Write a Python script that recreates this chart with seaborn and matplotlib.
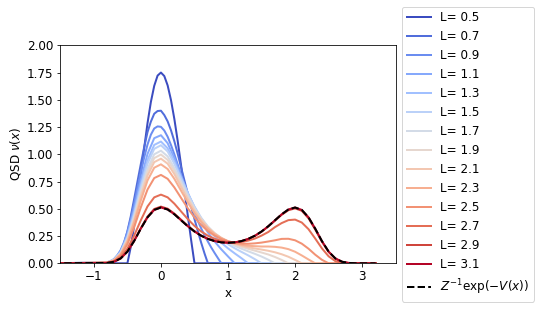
import numpy as np
import matplotlib
matplotlib.use("Agg")
import matplotlib.pyplot as plt
import seaborn as sns

# values read off the reference, sampled from x = -0.8 up to x = L
# (step 0.05 for the three narrow curves, 0.1 for the others)
L_values = [0.5, 0.7, 0.9, 1.1, 1.3, 1.5, 1.7, 1.9, 2.1, 2.3, 2.5, 2.7, 2.9, 3.1]
steps = [0.05, 0.05, 0.05, 0.1, 0.1, 0.1, 0.1, 0.1, 0.1, 0.1, 0.1, 0.1, 0.1, 0.1]

qsd_05 = [0, 0, 0, 0, 0, 0, 0, 0.149, 0.341, 0.566, 0.810, 1.056, 1.286, 1.480, 1.628, 1.722,
          1.75, 1.718, 1.632, 1.497, 1.324, 1.121, 0.900, 0.670, 0.440, 0.214, 0]
qsd_07 = [0, 0, 0, 0.035, 0.098, 0.18, 0.294, 0.43, 0.588, 0.75, 0.91, 1.065, 1.204, 1.30, 1.372,
          1.397, 1.40, 1.36, 1.302, 1.22, 1.12, 1.005, 0.882, 0.76, 0.637, 0.52, 0.406, 0.295,
          0.189, 0.09, 0]
qsd_09 = [0.006, 0.018, 0.039, 0.073, 0.122, 0.195, 0.289, 0.407, 0.543, 0.69, 0.836, 0.97, 1.090,
          1.18, 1.237, 1.256, 1.252, 1.218, 1.161, 1.085, 1.000, 0.907, 0.812, 0.718, 0.628, 0.543,
          0.463, 0.389, 0.320, 0.257, 0.199, 0.145, 0.095, 0.047, 0]
qsd_11 = [0.0085, 0.0356, 0.111, 0.263, 0.496, 0.766, 1.004, 1.148, 1.175, 1.102, 0.966, 0.806,
          0.647, 0.505, 0.385, 0.284, 0.200, 0.128, 0.063, 0]
qsd_13 = [0.0079, 0.0333, 0.1035, 0.246, 0.465, 0.720, 0.947, 1.086, 1.117, 1.055, 0.933, 0.788,
          0.645, 0.517, 0.408, 0.320, 0.248, 0.188, 0.137, 0.091, 0.047, 0]
qsd_15 = [0.0076, 0.032, 0.0995, 0.237, 0.447, 0.694, 0.914, 1.050, 1.083, 1.026, 0.913, 0.776,
          0.641, 0.520, 0.418, 0.336, 0.271, 0.218, 0.175, 0.138, 0.105, 0.073, 0.038, 0]
qsd_17 = [0.0071, 0.0304, 0.0944, 0.225, 0.425, 0.660, 0.869, 1.000, 1.033, 0.981, 0.875, 0.747,
          0.620, 0.506, 0.412, 0.336, 0.275, 0.228, 0.190, 0.160, 0.134, 0.110, 0.087, 0.062,
          0.033, 0]
qsd_19 = [0.0069, 0.0292, 0.0909, 0.2165, 0.409, 0.636, 0.838, 0.965, 0.998, 0.949, 0.848, 0.726,
          0.604, 0.496, 0.406, 0.333, 0.277, 0.233, 0.199, 0.172, 0.151, 0.133, 0.116, 0.099,
          0.081, 0.058, 0.031, 0]
qsd_21 = [0.0066, 0.028, 0.0872, 0.2077, 0.393, 0.611, 0.805, 0.928, 0.96, 0.914, 0.818, 0.701,
          0.585, 0.482, 0.396, 0.328, 0.274, 0.233, 0.202, 0.179, 0.161, 0.147, 0.136, 0.126,
          0.115, 0.101, 0.083, 0.060, 0.031, 0]
qsd_23 = [0.0063, 0.0264, 0.0822, 0.196, 0.371, 0.576, 0.760, 0.877, 0.908, 0.865, 0.775, 0.666,
          0.558, 0.461, 0.381, 0.317, 0.268, 0.231, 0.203, 0.184, 0.170, 0.161, 0.157, 0.154,
          0.154, 0.151, 0.144, 0.130, 0.106, 0.072, 0.035, 0]
qsd_25 = [0.0055, 0.0234, 0.073, 0.174, 0.330, 0.513, 0.677, 0.782, 0.811, 0.775, 0.696, 0.600,
          0.505, 0.421, 0.351, 0.296, 0.254, 0.223, 0.202, 0.188, 0.181, 0.179, 0.183, 0.190,
          0.200, 0.211, 0.224, 0.225, 0.211, 0.180, 0.134, 0.079, 0.032, 0]
qsd_27 = [0.0042, 0.018, 0.056, 0.134, 0.253, 0.395, 0.522, 0.605, 0.630, 0.605, 0.547, 0.476,
          0.406, 0.343, 0.292, 0.253, 0.225, 0.206, 0.195, 0.192, 0.196, 0.208, 0.227, 0.254,
          0.287, 0.332, 0.369, 0.396, 0.401, 0.374, 0.313, 0.227, 0.137, 0.064, 0.020, 0]
qsd_29 = [0.0034, 0.0146, 0.0456, 0.109, 0.207, 0.323, 0.428, 0.498, 0.52, 0.501, 0.456, 0.40,
          0.344, 0.295, 0.255, 0.226, 0.206, 0.194, 0.189, 0.192, 0.203, 0.223, 0.251, 0.29,
          0.337, 0.391, 0.445, 0.487, 0.504, 0.482, 0.413, 0.310, 0.198, 0.104, 0.043, 0.013,
          0.0026, 0]
qsd_31 = [0.0034, 0.0144, 0.0449, 0.1073, 0.2037, 0.318, 0.4219, 0.4899, 0.512, 0.4938, 0.4497,
          0.3948, 0.3399, 0.2917, 0.2528, 0.2237, 0.2037, 0.1922, 0.1884, 0.1922, 0.2037, 0.2237,
          0.2528, 0.2917, 0.3399, 0.3948, 0.4497, 0.4938, 0.512, 0.4899, 0.4219, 0.318, 0.2037,
          0.1073, 0.0449, 0.0144, 0.0034, 0.0005, 0.0001, 0]
gibbs = [0.0034, 0.0144, 0.0449, 0.1073, 0.2037, 0.318, 0.4219, 0.4899, 0.512, 0.4938, 0.4497,
         0.3948, 0.3399, 0.2917, 0.2528, 0.2237, 0.2037, 0.1922, 0.1884, 0.1922, 0.2037, 0.2237,
         0.2528, 0.2917, 0.3399, 0.3948, 0.4497, 0.4938, 0.512, 0.4899, 0.4219, 0.318, 0.2037,
         0.1073, 0.0449, 0.0144, 0.0034, 0.0006, 0.0001, 0]

qsd_curves = [qsd_05, qsd_07, qsd_09, qsd_11, qsd_13, qsd_15, qsd_17, qsd_19, qsd_21,
              qsd_23, qsd_25, qsd_27, qsd_29, qsd_31]

x_first, x_min, x_max = -0.8, -1.6, 3.2


def full_curve(vals, step):
    # density is zero outside the listed part, out to both ends of the grid
    xs = x_first + step * np.arange(len(vals))
    x = np.concatenate([[x_min], xs, [x_max]])
    y = np.concatenate([[0.0], vals, [0.0]])
    return x, y


plt.rcParams['font.size'] = 12
fig = plt.figure(figsize=(7.5, 309 / 72), dpi=72)
ax = fig.add_axes([0.1117, 0.1479, 0.6211, 0.7055])

colors = plt.cm.coolwarm(np.linspace(0, 1, len(L_values)))
for L, vals, step, c in zip(L_values, qsd_curves, steps, colors):
    x, y = full_curve(vals, step)
    sns.lineplot(x=x, y=y, color=c, lw=2, label=f"L= {L}", ax=ax)

x, y = full_curve(gibbs, 0.1)
sns.lineplot(x=x, y=y, color='black', lw=2, linestyle='--',
             label=r'$Z^{-1}\exp(-V(x))$', ax=ax)

ax.set_xlim(-1.5, 3.5)
ax.set_ylim(0, 2)
ax.set_yticks(np.arange(0, 2.01, 0.25))
ax.set_xlabel('x')
ax.set_ylabel(r'QSD $\nu(x)$')
ax.legend(loc='center left', bbox_to_anchor=(1, 0.5))

fig.savefig('out.png', dpi=72)
